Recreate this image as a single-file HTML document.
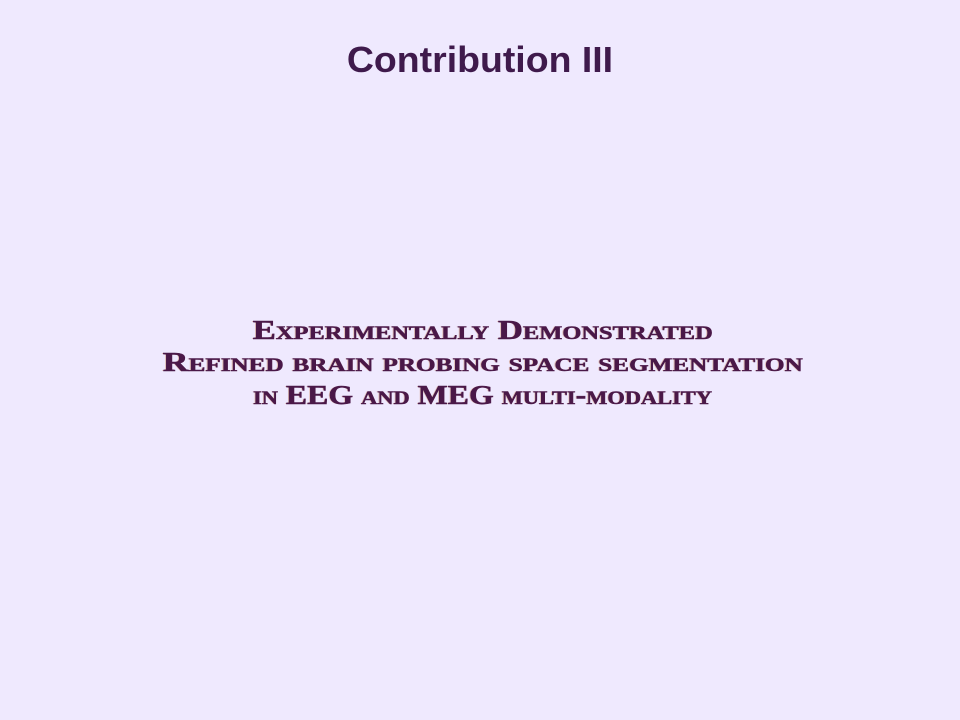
<!DOCTYPE html>
<html><head><meta charset="utf-8"><style>
html,body{margin:0;padding:0;}
body{width:960px;height:720px;background:#efe9fe;position:relative;overflow:hidden;}
#title{position:absolute;left:0;width:960px;top:36px;text-align:center;font-family:"Liberation Sans",sans-serif;font-weight:bold;font-size:36px;color:#3f1a4c;line-height:48px;}
#title span{display:inline-block;transform:scaleX(1.04);}
.line{position:absolute;left:3px;width:960px;text-align:center;font-family:"Liberation Serif",serif;font-weight:bold;font-variant:small-caps;font-size:27px;color:#4a1848;line-height:32px;-webkit-text-stroke:0.5px #4a1848;text-shadow:-1px 0 0 rgba(200,120,60,0.35);}
.line span{display:inline-block;transform-origin:center center;white-space:nowrap;}
</style></head><body>
<div id="title"><span>Contribution III</span></div>
<div class="line" style="top:314px"><span data-w="460">Experimentally Demonstrated</span></div>
<div class="line" style="top:346px"><span data-w="640">Refined brain probing space segmentation</span></div>
<div class="line" style="top:379px"><span data-w="459">in EEG and MEG multi-modality</span></div>
<script>
document.querySelectorAll('.line span').forEach(function(s){
  var w=s.getBoundingClientRect().width;
  var t=parseFloat(s.getAttribute('data-w'));
  if(w>0) s.style.transform='scaleX('+(t/w)+')';
});
</script>
</body></html>
